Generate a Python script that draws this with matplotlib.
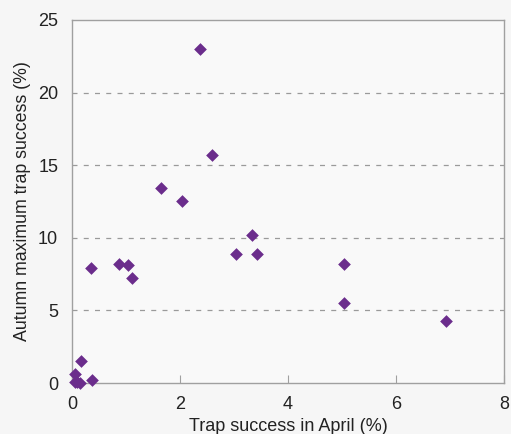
import matplotlib.pyplot as plt

# trap success in April (%) vs autumn maximum trap success (%)
april = [2.37, 2.60, 1.65, 2.04, 0.35, 0.87, 1.04, 1.11, 3.04, 3.34, 3.43,
         5.03, 5.03, 6.92, 0.17, 0.06, 0.10, 0.37, 0.15, 0.05]
autumn = [23.0, 15.7, 13.4, 12.5, 7.9, 8.2, 8.15, 7.25, 8.9, 10.2, 8.9,
          8.2, 5.5, 4.27, 1.5, 0.6, 0.1, 0.2, 0.0, 0.1]

plt.rcParams['font.family'] = ['Liberation Sans', 'DejaVu Sans']

fig = plt.figure(figsize=(5.11, 4.34), dpi=100, facecolor="#f6f6f6")
ax = fig.add_axes([0.141, 0.1175, 0.845, 0.8365])
ax.set_facecolor("#f9f9f9")

ax.scatter(april, autumn, marker="D", s=42, color="#6b2d8c", zorder=3,
           clip_on=False, linewidths=0)

ax.set_xlim(0, 8)
ax.set_ylim(0, 25)
ax.set_xticks([0, 2, 4, 6, 8])
ax.set_yticks([0, 5, 10, 15, 20, 25])
for y in [5, 10, 15, 20]:
    ax.axhline(y, color="#9a9a9a", linestyle=(0, (4, 5)), linewidth=0.9, zorder=1)

for s in ax.spines.values():
    s.set_color("#a0a0a0")
    s.set_linewidth(1.0)

ax.tick_params(axis="x", direction="in", length=6, color="#a0a0a0",
               labelsize=13, labelcolor="#222222", pad=9)
ax.tick_params(axis="y", length=0, labelsize=13, labelcolor="#222222", pad=10)

ax.set_xlabel("Trap success in April (%)", fontsize=13, color="#222222", labelpad=4)
ax.set_ylabel("Autumn maximum trap success (%)", fontsize=12.8, color="#222222", labelpad=5)

plt.savefig("out.png", dpi=100, facecolor=fig.get_facecolor())
